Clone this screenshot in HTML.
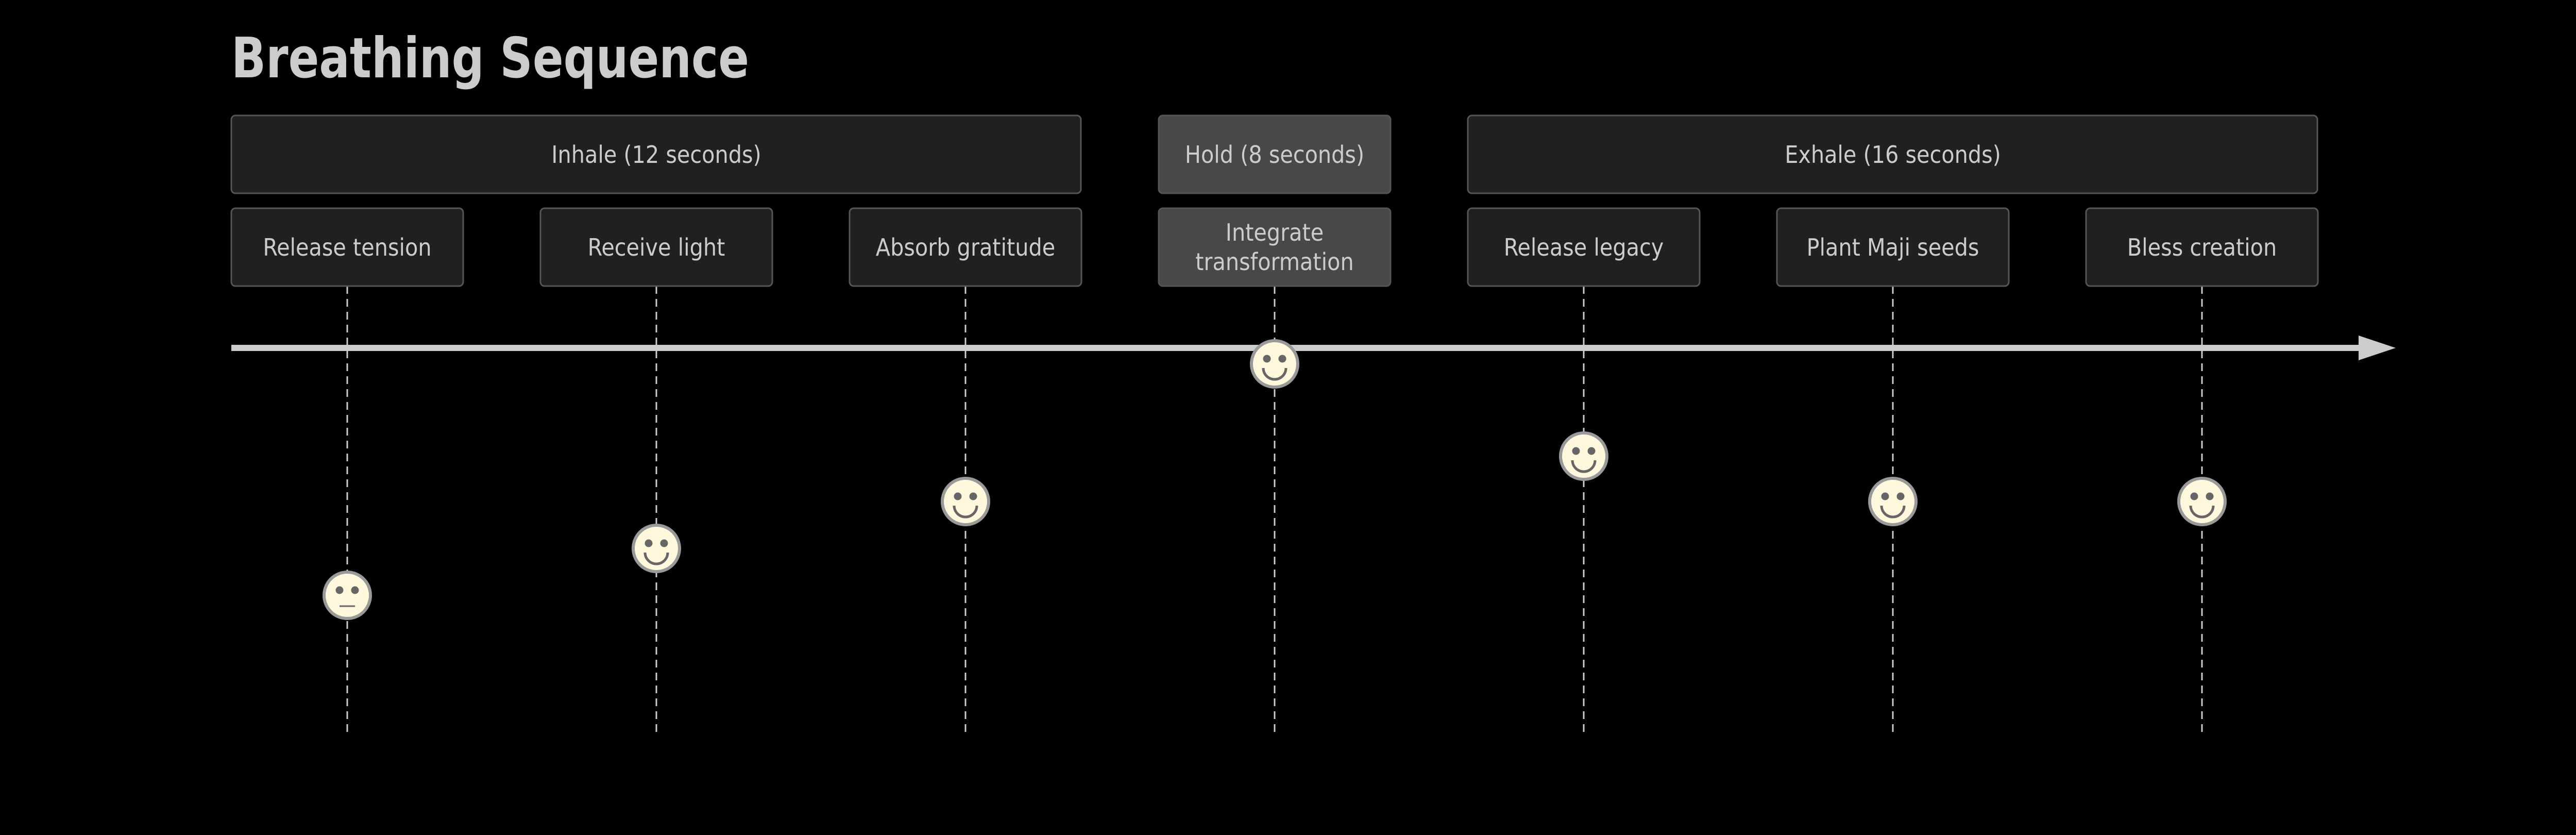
<!DOCTYPE html>
<html><head><meta charset="utf-8"><style>
html,body{margin:0;padding:0;background:#000;}
svg{display:block;}
text{font-family:"DejaVu Sans Condensed","Liberation Sans",sans-serif;fill:#ccc;}
</style></head><body>
<svg width="5100" height="1620" viewBox="0 0 5100 1620" xmlns="http://www.w3.org/2000/svg">
<rect width="5100" height="1620" fill="#000"/>
<text x="449" y="150" font-size="108" font-weight="bold" fill="#ccc" textLength="1005" lengthAdjust="spacingAndGlyphs">Breathing Sequence</text>
<g stroke="#ccc" stroke-width="3" stroke-dasharray="15,10">
<line x1="674" y1="555" x2="674" y2="1421"/>
<line x1="1274" y1="555" x2="1274" y2="1421"/>
<line x1="1874" y1="555" x2="1874" y2="1421"/>
<line x1="2474" y1="555" x2="2474" y2="1421"/>
<line x1="3074" y1="555" x2="3074" y2="1421"/>
<line x1="3674" y1="555" x2="3674" y2="1421"/>
<line x1="4274" y1="555" x2="4274" y2="1421"/>
</g>
<g stroke="#555" stroke-width="3">
<rect x="449" y="224" width="1649" height="151" rx="8" fill="#1f2020"/>
<rect x="2249" y="224" width="450" height="151" rx="8" fill="#474949"/>
<rect x="2849" y="224" width="1649" height="151" rx="8" fill="#1f2020"/>
<rect x="449" y="404" width="450" height="151" rx="8" fill="#1f2020"/>
<rect x="1049" y="404" width="450" height="151" rx="8" fill="#1f2020"/>
<rect x="1649" y="404" width="450" height="151" rx="8" fill="#1f2020"/>
<rect x="2249" y="404" width="450" height="151" rx="8" fill="#474949"/>
<rect x="2849" y="404" width="450" height="151" rx="8" fill="#1f2020"/>
<rect x="3449" y="404" width="450" height="151" rx="8" fill="#1f2020"/>
<rect x="4049" y="404" width="450" height="151" rx="8" fill="#1f2020"/>
</g>
<g font-size="46" text-anchor="middle">
<text x="1274" y="316">Inhale (12 seconds)</text>
<text x="2474" y="316">Hold (8 seconds)</text>
<text x="3674" y="316">Exhale (16 seconds)</text>
<text x="674" y="496">Release tension</text>
<text x="1274" y="496">Receive light</text>
<text x="1874" y="496">Absorb gratitude</text>
<text x="2474" y="467">Integrate</text>
<text x="2474" y="524">transformation</text>
<text x="3074" y="496">Release legacy</text>
<text x="3674" y="496">Plant Maji seeds</text>
<text x="4274" y="496">Bless creation</text>
</g>
<rect x="449" y="669" width="4130" height="12" fill="#ccc"/>
<polygon points="4578,651 4650,675 4578,699" fill="#ccc"/>
<defs>
<g id="smile">
<circle r="45" fill="#fff8dc" stroke="#999" stroke-width="6"/>
<circle cx="-15" cy="-10" r="7.5" fill="#666"/>
<circle cx="15" cy="-10" r="7.5" fill="#666"/>
<path d="M-22,8 A22,22 0 0 0 22,8" fill="none" stroke="#666" stroke-width="5"/>
</g>
</defs>
<g transform="translate(674,1155)">
<circle r="45" fill="#fff8dc" stroke="#999" stroke-width="6"/>
<circle cx="-15" cy="-10" r="7.5" fill="#666"/>
<circle cx="15" cy="-10" r="7.5" fill="#666"/>
<line x1="-15" y1="21" x2="15" y2="21" stroke="#666" stroke-width="3"/>
</g>
<use href="#smile" x="1274" y="1064"/>
<use href="#smile" x="1874" y="973"/>
<use href="#smile" x="2474" y="706"/>
<use href="#smile" x="3074" y="885"/>
<use href="#smile" x="3674" y="973"/>
<use href="#smile" x="4274" y="973"/>
</svg>
</body></html>
